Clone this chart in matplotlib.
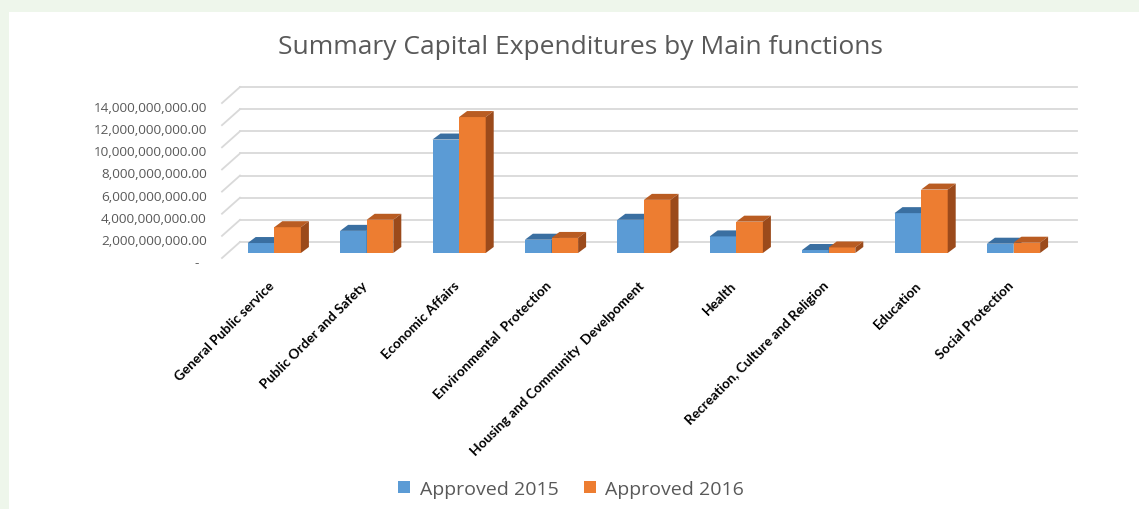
import matplotlib
matplotlib.use("Agg")
import matplotlib.pyplot as plt
from matplotlib.patches import Polygon, Rectangle, Patch
from matplotlib.transforms import ScaledTranslation

categories = ["General Public service", "Public Order and Safety", "Economic Affairs",
              "Environmental  Protection", "Housing and Community  Develpoment", "Health",
              "Recreation, Culture and Religion", "Education", "Social Protection"]
approved_2015 = [0.90e9, 2.00e9, 10.25e9, 1.20e9, 3.00e9, 1.50e9, 0.27e9, 3.60e9, 0.84e9]
approved_2016 = [2.33e9, 3.00e9, 12.28e9, 1.36e9, 4.80e9, 2.83e9, 0.50e9, 5.73e9, 0.93e9]
series_names = ["Approved 2015", "Approved 2016"]
yticks = [0, 2e9, 4e9, 6e9, 8e9, 10e9, 12e9, 14e9]
ytick_labels = ["-  "] + [f"{v:,.2f}" for v in yticks[1:]]

W, H = 1139, 510
fig = plt.figure(figsize=(W / 100, H / 100), dpi=100, facecolor="#eef6eb")
fig.patches.append(Rectangle((9 / W, 0), 1, 1 - 13 / H, transform=fig.transFigure,
                             facecolor="white", edgecolor="none", zorder=-5))

# front plane of the 3D box
x0, x1 = 222, 1059
y0, ytop = 259, 88
ax = fig.add_axes([x0 / W, 1 - y0 / H, (x1 - x0) / W, (y0 - ytop) / H])
ax.set_zorder(2)
ax.set_facecolor("none")
px_per_cat = 92.4
cx0 = 274.3
ax.set_xlim((x0 - cx0) / px_per_cat, (x1 - cx0) / px_per_cat)
px_per_unit = 22.14 / 2e9
ax.set_ylim(0, (y0 - ytop) / px_per_unit)
for s in ax.spines.values():
    s.set_visible(False)

# wall offsets (back wall) and bar depth
wall_dx = 18 / px_per_cat
wall_dy = 16 / px_per_unit
bar_base = 5 / px_per_unit
dep_dx = 8 / px_per_cat
dep_dy = 6 / px_per_unit
xl, xr = ax.get_xlim()
grid_c = "#d9d9d9"
for v in yticks:
    ax.plot([xl + wall_dx, xr + wall_dx], [v + wall_dy, v + wall_dy], color=grid_c,
            lw=1.3, zorder=1, clip_on=False)
    ax.plot([xl, xl + wall_dx], [v, v + wall_dy], color=grid_c, lw=1.3, zorder=1, clip_on=False)

bw = 26.6 / px_per_cat
face = ["#5b9bd5", "#ed7d31"]
topc = ["#3a6fa1", "#b95c22"]
sidec = ["#2f5b85", "#9b4a1b"]
for si, vals in enumerate([approved_2015, approved_2016]):
    for i, v in enumerate(vals):
        left = i - bw + si * bw
        right = left + bw
        b = bar_base
        t = bar_base + v
        z = 3 + si
        ax.bar(left, v, width=bw, bottom=b, align="edge", color=face[si], zorder=z,
               linewidth=0)
        ax.add_patch(Polygon([(left, t), (right, t), (right + dep_dx, t + dep_dy),
                              (left + dep_dx, t + dep_dy)], closed=True,
                             facecolor=topc[si], edgecolor="none", zorder=z))
        ax.add_patch(Polygon([(right, b), (right + dep_dx, b + dep_dy),
                              (right + dep_dx, t + dep_dy), (right, t)], closed=True,
                             facecolor=sidec[si], edgecolor="none", zorder=z))

ax.set_yticks(yticks)
ax.set_yticklabels(ytick_labels, fontsize=9.7, color="#595959", family="Open Sans")
ax.tick_params(axis="y", length=0, pad=11)
for lab in ax.get_yticklabels():
    lab.set_transform(lab.get_transform() + ScaledTranslation(0, -3 / 100, fig.dpi_scale_trans))

ax.set_xticks(range(len(categories)))
ax.set_xticklabels(categories, rotation=45, ha="right", va="top", rotation_mode="anchor",
                   fontsize=9.8, fontweight="bold", family="Lato", color="black")
ax.tick_params(axis="x", length=0, pad=15)
for lab in ax.get_xticklabels():
    lab.set_transform(lab.get_transform() + ScaledTranslation(-6 / 100, 0, fig.dpi_scale_trans))

fig.text(580 / W, 1 - 47 / H, "Summary Capital Expenditures by Main functions", ha="center",
         va="center", fontsize=19, color="#595959", family="Open Sans")

handles = [Patch(facecolor=face[0], edgecolor="none"), Patch(facecolor=face[1], edgecolor="none")]
fig.legend(handles, series_names, loc="center", bbox_to_anchor=(571 / W, 1 - 490 / H), ncol=2,
           frameon=False, prop={"family": "Open Sans", "size": 14}, labelcolor="#595959",
           handlelength=0.62, handleheight=0.62, handletextpad=0.5, columnspacing=1.3)

fig.savefig("out.png", dpi=100, facecolor=fig.get_facecolor())
